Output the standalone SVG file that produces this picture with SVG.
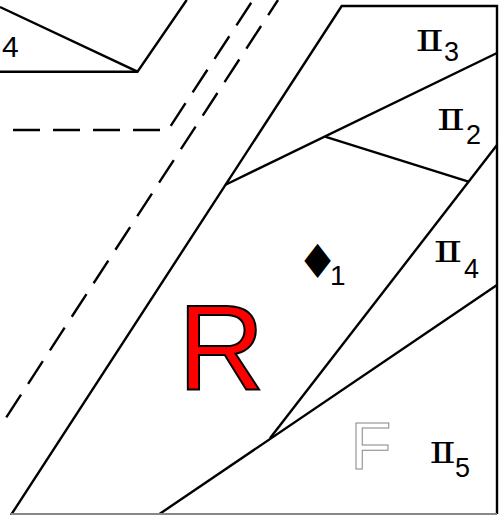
<svg xmlns="http://www.w3.org/2000/svg" width="501" height="515" viewBox="0 0 501 515">
<style>
.ln{fill:none;stroke:#000;stroke-width:2.4;stroke-linecap:butt;stroke-linejoin:miter}
.dash{fill:none;stroke:#000;stroke-width:2.4;stroke-dasharray:27 13}
.lbl{font-family:"Liberation Sans",Arial,sans-serif;font-size:27px;fill:#000}
.rn{font-family:"DejaVu Serif",serif;font-size:27px;fill:#000}
</style>
<rect width="501" height="515" fill="#fff"/>
<g id="lines">
<path class="ln" d="M0,7 L137.5,71.7 L186.7,0"/>
<path class="ln" d="M0,71.7 L137.5,71.7"/>
<path class="dash" d="M253,0 L168,130 L0,130" style="stroke-dashoffset:36.7"/>
<path class="dash" d="M278,0 L0,427" style="stroke-dashoffset:9"/>
<path class="ln" d="M11,515 L341.7,6 L497,6 L497,514"/>
<path class="ln" d="M225,185 L497,53"/>
<path class="ln" d="M325,136.7 L468.5,181.7"/>
<path class="ln" d="M497,145 L270,438.3"/>
<path class="ln" d="M497,285 L158,515"/>
<path d="M11,514 L497,514" fill="none" stroke="#888" stroke-width="2"/>
</g>
<g id="labels">
<text x="2" y="57" class="lbl" style="font-size:30px">4</text>
<g id="pi3"><text class="rn" transform="translate(415.3,51) scale(1.57,1)">Ⅱ</text><text x="444" y="61" class="lbl">3</text></g>
<g id="pi2"><text class="rn" transform="translate(436.5,130) scale(1.57,1)">Ⅱ</text><text x="466" y="144" class="lbl">2</text></g>
<g id="pi4"><text class="rn" transform="translate(433.2,262) scale(1.6,1)">Ⅱ</text><text x="464" y="278" class="lbl">4</text></g>
<g id="pi5"><text class="rn" transform="translate(429.2,463) scale(1.45,1)">Ⅱ</text><text x="455" y="477" class="lbl">5</text></g>
<g id="d1"><text x="317.5" y="278" text-anchor="middle" style="font-family:'DejaVu Sans',sans-serif;font-size:47px">♦</text><text x="330" y="285" class="lbl" style="font-size:28px">1</text></g>
<text x="178" y="390" style="font-family:'Liberation Sans',Arial,sans-serif;font-size:120px;fill:#f00;stroke:#000;stroke-width:2">R</text>
<text x="350.5" y="469" style="font-family:'Liberation Sans',Arial,sans-serif;font-size:67px;fill:#fff;stroke:#888;stroke-width:1">F</text>
</g>
</svg>
